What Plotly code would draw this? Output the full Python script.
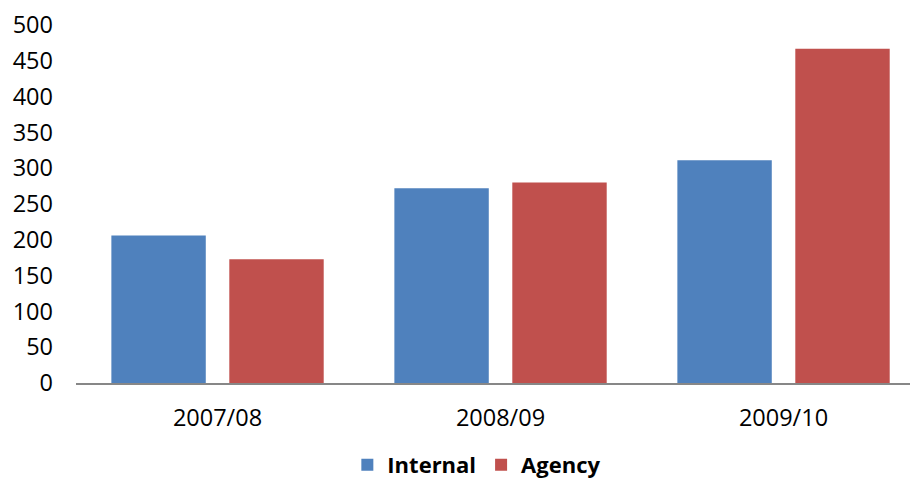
import plotly.graph_objects as go

categories = ["2007/08", "2008/09", "2009/10"]
internal = [206, 272, 311]
agency = [173, 280, 467]
y_ticks = [0, 50, 100, 150, 200, 250, 300, 350, 400, 450, 500]

BLUE = "#4F81BD"
RED = "#C0504D"
FONT = "Open Sans"

fig = go.Figure()
fig.add_trace(go.Bar(
    x=categories, y=internal, name="Internal",
    marker=dict(color=BLUE, line=dict(width=0)),
    width=0.3336, offset=-0.375,
))
fig.add_trace(go.Bar(
    x=categories, y=agency, name="Agency",
    marker=dict(color=RED, line=dict(width=0)),
    width=0.3336, offset=0.0417,
))

fig.update_layout(
    width=910, height=486,
    margin=dict(l=76, r=0, t=25, b=103, pad=0, autoexpand=False),
    paper_bgcolor="white", plot_bgcolor="white",
    barmode="overlay",
    font=dict(family=FONT, size=23, color="black"),
    showlegend=True,
    legend=dict(
        orientation="h", xref="container", yref="container",
        x=0.524, xanchor="center", y=-0.014, yanchor="bottom",
        font=dict(family=FONT, size=22, color="black", weight="bold"),
        itemwidth=30, traceorder="normal",
    ),
    xaxis=dict(
        type="category", range=[-0.5, 2.447],
        showgrid=False, zeroline=False,
        showline=True, linecolor="#878787", linewidth=2,
        ticks="", ticklabelstandoff=13, tickangle=0,
        tickfont=dict(family=FONT, size=23.5, color="black"),
        fixedrange=True,
    ),
    yaxis=dict(
        range=[0, 500], tickvals=y_ticks,
        showgrid=False, zeroline=False, showline=False,
        ticks="", ticklabelstandoff=22,
        tickfont=dict(family=FONT, size=23.5, color="black"),
        fixedrange=True,
    ),
)

fig.write_html("out.html")
